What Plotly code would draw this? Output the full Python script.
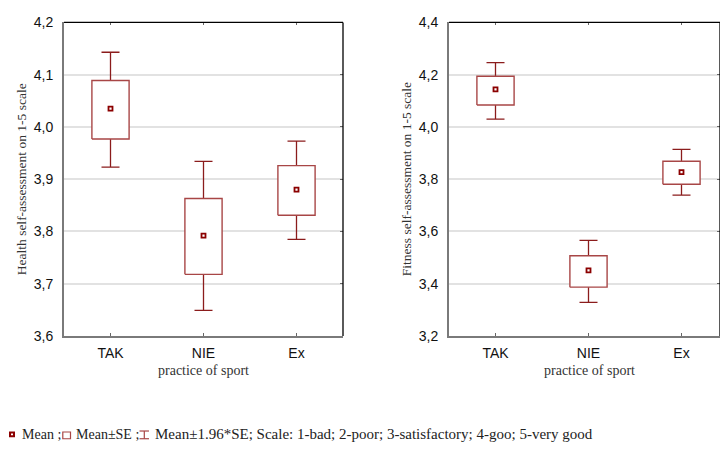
import plotly.graph_objects as go

categories = ["TAK", "NIE", "Ex"]

# Health self-assessment (left panel)
health_mean = [4.035, 3.792, 3.880]
health_se_low = [3.977, 3.718, 3.831]
health_se_high = [4.089, 3.863, 3.926]
health_ci_low = [3.923, 3.649, 3.785]
health_ci_high = [4.143, 3.934, 3.973]

# Fitness self-assessment (right panel)
fitness_mean = [4.144, 3.451, 3.827]
fitness_se_low = [4.084, 3.387, 3.781]
fitness_se_high = [4.194, 3.507, 3.869]
fitness_ci_low = [4.030, 3.329, 3.739]
fitness_ci_high = [4.246, 3.566, 3.914]

health_ticks = [3.6, 3.7, 3.8, 3.9, 4.0, 4.1, 4.2]
fitness_ticks = [3.2, 3.4, 3.6, 3.8, 4.0, 4.2, 4.4]

W, H = 720, 453
BOX_C = "#a84646"
WHISK_C = "#8b1c1c"
MEAN_C = "#8b0000"
BOX_HALF = 0.2

fig = go.Figure()


def add_panel(xa, ya, mean, se_lo, se_hi, ci_lo, ci_hi):
    xs = list(range(len(categories)))
    # whiskers (error bars)
    fig.add_trace(go.Scatter(
        x=xs, y=mean, mode="markers", marker=dict(size=1, color="rgba(0,0,0,0)"),
        error_y=dict(type="data", symmetric=False,
                     array=[h - m for h, m in zip(ci_hi, mean)],
                     arrayminus=[m - l for m, l in zip(mean, ci_lo)],
                     color=WHISK_C, thickness=1.3, width=9),
        xaxis=xa, yaxis=ya, showlegend=False, hoverinfo="skip"))
    # boxes
    for i in xs:
        fig.add_trace(go.Scatter(
            x=[i - BOX_HALF, i + BOX_HALF, i + BOX_HALF, i - BOX_HALF, i - BOX_HALF],
            y=[se_lo[i], se_lo[i], se_hi[i], se_hi[i], se_lo[i]],
            mode="lines", fill="toself", fillcolor="white",
            line=dict(color=BOX_C, width=1.4),
            xaxis=xa, yaxis=ya, showlegend=False, hoverinfo="skip"))
    # means
    fig.add_trace(go.Scatter(
        x=xs, y=mean, mode="markers",
        marker=dict(symbol="square", size=4, color="white",
                    line=dict(color=MEAN_C, width=1.8)),
        xaxis=xa, yaxis=ya, showlegend=False))


add_panel("x", "y", health_mean, health_se_low, health_se_high, health_ci_low, health_ci_high)
add_panel("x2", "y2", fitness_mean, fitness_se_low, fitness_se_high, fitness_ci_low, fitness_ci_high)

ydom = [1 - 340 / H, 1 - 15 / H]
tickfont = dict(family="Liberation Sans, Arial, sans-serif", size=14, color="#111")
xcommon = dict(tickvals=[0, 1, 2], ticktext=categories, ticks="inside", ticklen=3,
               tickcolor="#666", showline=True, linecolor="#7a7a7a", linewidth=2,
               showgrid=False, zeroline=False, tickfont=tickfont, ticklabelstandoff=3)
ycommon = dict(ticks="", showline=True, linecolor="#7a7a7a", linewidth=2,
               showgrid=True, gridcolor="#e2e2e2", gridwidth=1.5, zeroline=False,
               tickfont=tickfont, tickformat=".1f", ticklabelstandoff=6)

left_dom = [64 / W, 343 / W]
right_dom = [449 / W, 1.0]
right_max = (W - 449) / ((343 - 64) / 3) - 0.5

overlay = dict(ticks="inside", ticklen=3, tickcolor="#666", showticklabels=False,
               showgrid=False, zeroline=False, showline=False)

fig.update_layout(
    width=W, height=H, margin=dict(l=0, r=0, t=0, b=0),
    plot_bgcolor="white", paper_bgcolor="white", separators=", ",
    xaxis=dict(domain=left_dom, range=[-0.5, 2.5], anchor="y", **xcommon),
    yaxis=dict(domain=ydom, range=[3.6, 4.2], tickvals=health_ticks, anchor="x", **ycommon),
    xaxis2=dict(domain=right_dom, range=[-0.5, right_max], anchor="y2", **xcommon),
    yaxis2=dict(domain=ydom, range=[3.2, 4.4], tickvals=fitness_ticks, anchor="x2", **ycommon),
    xaxis3=dict(overlaying="x", matches="x", side="top", anchor="y", tickvals=[0, 1, 2], **overlay),
    yaxis3=dict(overlaying="y", matches="y", side="right", anchor="x", tickvals=health_ticks, **overlay),
    xaxis4=dict(overlaying="x2", matches="x2", side="top", anchor="y2", tickvals=[0, 1, 2], **overlay),
    yaxis4=dict(overlaying="y2", matches="y2", side="right", anchor="x2", tickvals=fitness_ticks, **overlay),
)
for xa, ya in [("x3", "y3"), ("x4", "y4")]:
    fig.add_trace(go.Scatter(x=[None], y=[None], xaxis=xa, yaxis=ya, showlegend=False))

# frame top/right (black)
for xr, yr in [("x", "y"), ("x2", "y2")]:
    fig.add_shape(type="line", xref=f"{xr} domain", yref=f"{yr} domain",
                  x0=0, x1=1, y0=1, y1=1, line=dict(color="black", width=1.3))
    fig.add_shape(type="line", xref=f"{xr} domain", yref=f"{yr} domain",
                  x0=1, x1=1, y0=0, y1=1, line=dict(color="black", width=1.3))

serif = "Liberation Serif, Times New Roman, serif"


def px(x):
    return x / W


def py(y):
    return 1 - y / H


def ann(text, x, y, size, xanchor="center", angle=0, color="#333"):
    fig.add_annotation(text=text, x=px(x), y=py(y), xref="paper", yref="paper",
                       xanchor=xanchor, yanchor="middle", textangle=angle,
                       showarrow=False, font=dict(family=serif, size=size, color=color))


ymid = (15 + 340) / 2
ann("Health self-assessment on 1-5 scale", 21, ymid, 13.5, angle=-90)
ann("Fitness self-assessment on 1-5 scale", 406, ymid, 13.5, angle=-90)
ann("practice of sport", 203, 376, 14)
ann("practice of sport", 589, 376, 14)

# bottom legend
ly = 442
fig.add_shape(type="rect", xref="paper", yref="paper", x0=px(10), x1=px(14),
              y0=py(ly + 2), y1=py(ly - 2), line=dict(color=MEAN_C, width=2), fillcolor="white")
ann("Mean ;", 19.5, ly, 14, xanchor="left", color="#222")
fig.add_shape(type="rect", xref="paper", yref="paper", x0=px(62.8), x1=px(70.5),
              y0=py(ly + 4.5), y1=py(ly - 2.5), line=dict(color=BOX_C, width=1.2), fillcolor="white")
ann("Mean±SE ;", 73.5, ly, 14, xanchor="left", color="#222")
for (x0, y0, x1, y1) in [(139.5, ly - 3.5, 149, ly - 3.5), (139.5, ly + 4.5, 149, ly + 4.5),
                         (144.3, ly - 3.5, 144.3, ly + 4.5)]:
    fig.add_shape(type="line", xref="paper", yref="paper", x0=px(x0), x1=px(x1),
                  y0=py(y0), y1=py(y1), line=dict(color=BOX_C, width=1.2))
ann("Mean±1.96*SE; Scale: 1-bad; 2-poor; 3-satisfactory; 4-goo; 5-very good",
    152.7, ly, 15, xanchor="left", color="#222")

fig.write_html("out.html", config={"displayModeBar": False},
               post_script="document.body.style.margin='0';document.body.style.overflow='hidden';")
